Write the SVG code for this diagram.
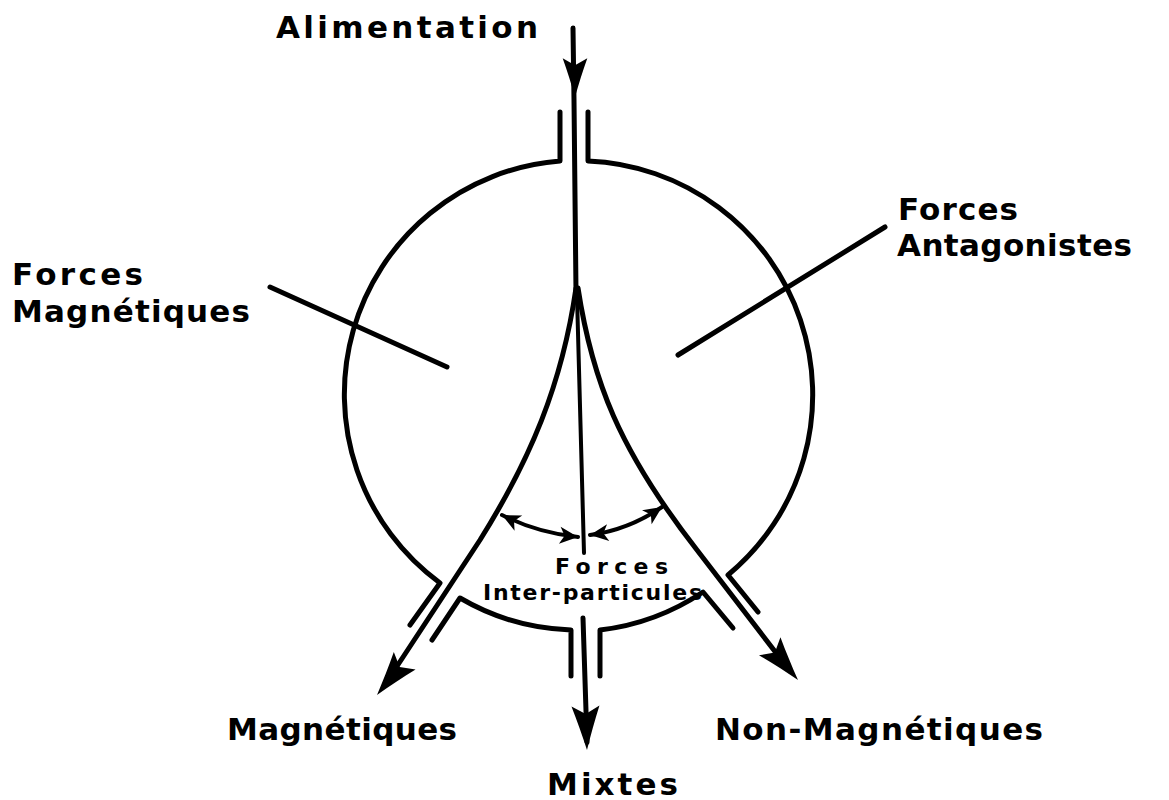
<svg xmlns="http://www.w3.org/2000/svg" xmlns:xlink="http://www.w3.org/1999/xlink" width="1169" height="800" viewBox="0 0 1169 800">
<style>
.ln{fill:none;stroke:#000;stroke-width:5;stroke-linecap:round;stroke-linejoin:round}
.th{fill:none;stroke:#000;stroke-width:4;stroke-linecap:round}
.lb{font-family:"DejaVu Sans","Liberation Sans",sans-serif;font-weight:bold;font-size:31px;fill:#000}
.sm{font-family:"DejaVu Sans","Liberation Sans",sans-serif;font-weight:bold;font-size:22px;fill:#000}
</style>
<defs>
<path id="ah" d="M0,0 C-14,-4 -30,-9 -44,-14 L-36,0 L-44,14 C-30,9 -14,4 0,0 Z" fill="#000"/>
<marker id="sa" markerUnits="userSpaceOnUse" markerWidth="22" markerHeight="22" viewBox="-16 -8 18 16" refX="0" refY="0" orient="auto-start-reverse">
<path d="M0,0 L-15,-7 L-11,0 L-15,7 Z" fill="#000"/>
</marker>
</defs>
<g id="vessel">
<path class="ln" d="M560,112 L560,161 A234,234 0 0 0 440,583 L410,625"/>
<path class="ln" d="M588,112 L588,161 A234,234 0 0 1 728,575 L758,612"/>
<path class="ln" d="M432,640 L460,598 A234,234 0 0 0 571,630 L571,676"/>
<path class="ln" d="M600,676 L600,630 A234,234 0 0 0 703,592 L733,628"/>
</g>
<g id="connectors">
<path class="ln" d="M573,28 L574,100 L576,292"/>
<use href="#ah" transform="translate(575,97) rotate(90) scale(0.88)"/>
<path class="ln" d="M576,288 C562,385 530,460 480,540 L384,686"/>
<use href="#ah" transform="translate(377,695) rotate(129)"/>
<path class="ln" d="M578,288 C592,380 619,450 697,550 L790,671"/>
<use href="#ah" transform="translate(798,680) rotate(50)"/>
<path class="th" d="M577,296 L584,553"/>
<path class="ln" d="M583,618 L587,742"/>
<use href="#ah" transform="translate(587,750) rotate(88)"/>
<path class="th" d="M502,515 Q538,533 578,537" marker-start="url(#sa)" marker-end="url(#sa)"/>
<path class="th" d="M590,535 Q628,530 662,507" marker-start="url(#sa)" marker-end="url(#sa)"/>
<path class="ln" d="M270,287 L447,367"/>
<path class="ln" d="M885,227 L678,355"/>
</g>
<g id="label-alimentation"><text class="lb" x="276" y="38" textLength="262" lengthAdjust="spacing">Alimentation</text></g>
<g id="label-forces-magnetiques">
<text class="lb" x="12" y="285" textLength="131" lengthAdjust="spacing">Forces</text>
<text class="lb" x="12" y="322" textLength="238" lengthAdjust="spacing">Magnétiques</text>
</g>
<g id="label-forces-antagonistes">
<text class="lb" x="898" y="220" textLength="120" lengthAdjust="spacing">Forces</text>
<text class="lb" x="897" y="256" textLength="235" lengthAdjust="spacing">Antagonistes</text>
</g>
<g id="label-inter">
<text class="sm" x="555" y="574" textLength="113" lengthAdjust="spacing">Forces</text>
<text class="sm" x="483" y="600" textLength="219" lengthAdjust="spacing">Inter-particules</text>
</g>
<g id="out-magnetiques"><text class="lb" x="227" y="740" textLength="230" lengthAdjust="spacing">Magnétiques</text></g>
<g id="out-mixtes"><text class="lb" x="547" y="795" textLength="131" lengthAdjust="spacing">Mixtes</text></g>
<g id="out-non-magnetiques"><text class="lb" x="715" y="740" textLength="328" lengthAdjust="spacing">Non-Magnétiques</text></g>
</svg>
